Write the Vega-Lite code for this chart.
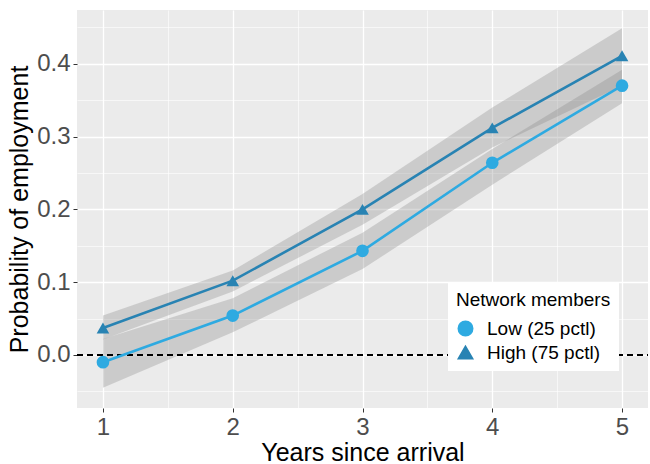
{
  "$schema": "https://vega.github.io/schema/vega-lite/v6.json",
  "autosize": {"type": "none"},
  "padding": {"left": 77, "top": 10, "right": 2, "bottom": 56},
  "width": 571,
  "height": 398,
  "background": "white",
  "config": {
    "view": {"stroke": null, "fill": "#EBEBEB"},
    "font": "Liberation Sans",
    "axis": {
      "domain": false,
      "gridColor": "white",
      "tickColor": "#333333",
      "tickSize": 4,
      "labelColor": "#4D4D4D",
      "labelFontSize": 24,
      "titleFontSize": 25,
      "titleFontWeight": "normal",
      "titleColor": "black",
      "labelOverlap": false
    },
    "legend": {
      "orient": "none", "legendX": 371, "legendY": 273,
      "fillColor": "white", "padding": 8,
      "titleFontSize": 19, "titleFontWeight": "normal", "titleColor": "black",
      "labelFontSize": 19, "labelColor": "black", "labelOffset": 12,
      "symbolSize": 210, "rowPadding": 4, "titlePadding": 9
    }
  },
  "data": {
    "values": [
      {"group": "Low (25 pctl)", "year": 1, "est": -0.010, "lo": -0.045, "hi": 0.022},
      {"group": "Low (25 pctl)", "year": 2, "est": 0.054, "lo": 0.031, "hi": 0.078},
      {"group": "Low (25 pctl)", "year": 3, "est": 0.143, "lo": 0.118, "hi": 0.168},
      {"group": "Low (25 pctl)", "year": 4, "est": 0.264, "lo": 0.234, "hi": 0.283},
      {"group": "Low (25 pctl)", "year": 5, "est": 0.370, "lo": 0.346, "hi": 0.392},
      {"group": "High (75 pctl)", "year": 1, "est": 0.037, "lo": 0.021, "hi": 0.054},
      {"group": "High (75 pctl)", "year": 2, "est": 0.102, "lo": 0.087, "hi": 0.116},
      {"group": "High (75 pctl)", "year": 3, "est": 0.200, "lo": 0.179, "hi": 0.221},
      {"group": "High (75 pctl)", "year": 4, "est": 0.312, "lo": 0.285, "hi": 0.340},
      {"group": "High (75 pctl)", "year": 5, "est": 0.411, "lo": 0.370, "hi": 0.449}
    ]
  },
  "encoding": {
    "x": {
      "field": "year", "type": "quantitative",
      "scale": {"domain": [0.8, 5.2], "nice": false, "zero": false},
      "axis": {
        "title": "Years since arrival",
        "values": [1, 1.5, 2, 2.5, 3, 3.5, 4, 4.5, 5],
        "labelExpr": "datum.value % 1 === 0 ? format(datum.value, 'd') : ''",
        "gridWidth": {"condition": {"test": "datum.value % 1 === 0", "value": 1.3}, "value": 0.6},
        "tickOpacity": {"condition": {"test": "datum.value % 1 === 0", "value": 1}, "value": 0},
        "labelPadding": 3,
        "titlePadding": 1
      }
    }
  },
  "layer": [
    {
      "mark": {"type": "area", "fill": "#888888", "opacity": 0.32},
      "encoding": {
        "y": {
          "field": "lo", "type": "quantitative",
          "scale": {"domain": [-0.073, 0.474], "nice": false, "zero": false},
          "axis": {
            "title": "Probability of employment",
            "values": [-0.05, 0, 0.05, 0.1, 0.15, 0.2, 0.25, 0.3, 0.35, 0.4, 0.45],
            "labelExpr": "abs(round(datum.value * 20)) % 2 === 0 ? format(datum.value, '.1f') : ''",
            "gridWidth": {"condition": {"test": "abs(round(datum.value * 20)) % 2 === 0", "value": 1.3}, "value": 0.6},
            "tickOpacity": {"condition": {"test": "abs(round(datum.value * 20)) % 2 === 0", "value": 1}, "value": 0},
            "labelPadding": 3,
            "titlePadding": 4
          }
        },
        "y2": {"field": "hi"},
        "detail": {"field": "group"}
      }
    },
    {
      "mark": {"type": "rule", "color": "black", "strokeDash": [6, 4], "strokeWidth": 1.1},
      "encoding": {
        "x": {"datum": 0.8, "type": "quantitative"},
        "x2": {"datum": 5.2},
        "y": {
          "datum": 0, "type": "quantitative",
          "axis": {
            "title": "Probability of employment",
            "values": [-0.05, 0, 0.05, 0.1, 0.15, 0.2, 0.25, 0.3, 0.35, 0.4, 0.45],
            "labelExpr": "abs(round(datum.value * 20)) % 2 === 0 ? format(datum.value, '.1f') : ''",
            "gridWidth": {"condition": {"test": "abs(round(datum.value * 20)) % 2 === 0", "value": 1.3}, "value": 0.6},
            "tickOpacity": {"condition": {"test": "abs(round(datum.value * 20)) % 2 === 0", "value": 1}, "value": 0},
            "labelPadding": 3,
            "titlePadding": 4
          }
        }
      }
    },
    {
      "mark": {"type": "line", "strokeWidth": 2.6},
      "encoding": {
        "y": {
          "field": "est", "type": "quantitative",
          "axis": {
            "title": "Probability of employment",
            "values": [-0.05, 0, 0.05, 0.1, 0.15, 0.2, 0.25, 0.3, 0.35, 0.4, 0.45],
            "labelExpr": "abs(round(datum.value * 20)) % 2 === 0 ? format(datum.value, '.1f') : ''",
            "gridWidth": {"condition": {"test": "abs(round(datum.value * 20)) % 2 === 0", "value": 1.3}, "value": 0.6},
            "tickOpacity": {"condition": {"test": "abs(round(datum.value * 20)) % 2 === 0", "value": 1}, "value": 0},
            "labelPadding": 3,
            "titlePadding": 4
          }
        },
        "color": {
          "field": "group", "type": "nominal", "title": "Network members",
          "scale": {"domain": ["Low (25 pctl)", "High (75 pctl)"], "range": ["#2EAAE1", "#2883B3"]}
        }
      }
    },
    {
      "mark": {"type": "point", "filled": true, "opacity": 1, "size": 160},
      "encoding": {
        "y": {
          "field": "est", "type": "quantitative",
          "axis": {
            "title": "Probability of employment",
            "values": [-0.05, 0, 0.05, 0.1, 0.15, 0.2, 0.25, 0.3, 0.35, 0.4, 0.45],
            "labelExpr": "abs(round(datum.value * 20)) % 2 === 0 ? format(datum.value, '.1f') : ''",
            "gridWidth": {"condition": {"test": "abs(round(datum.value * 20)) % 2 === 0", "value": 1.3}, "value": 0.6},
            "tickOpacity": {"condition": {"test": "abs(round(datum.value * 20)) % 2 === 0", "value": 1}, "value": 0},
            "labelPadding": 3,
            "titlePadding": 4
          }
        },
        "color": {"field": "group", "type": "nominal", "title": "Network members"},
        "shape": {
          "field": "group", "type": "nominal", "title": "Network members",
          "scale": {"domain": ["Low (25 pctl)", "High (75 pctl)"], "range": ["circle", "triangle-up"]}
        }
      }
    }
  ]
}
